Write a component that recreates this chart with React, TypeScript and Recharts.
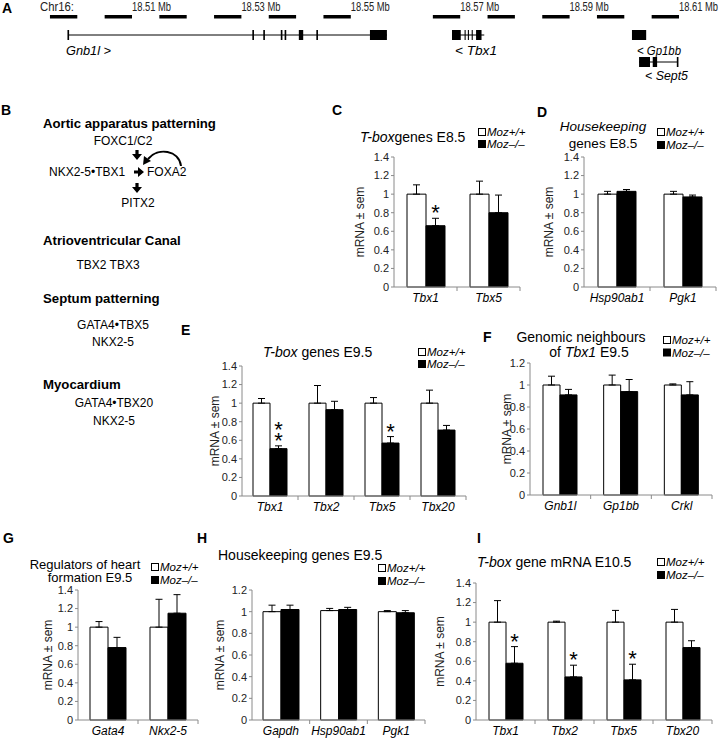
import React from "react";
import {
  BarChart,
  Bar,
  XAxis,
  YAxis,
  ErrorBar,
  LabelList,
  ComposedChart,
  ReferenceArea,
  ReferenceLine,
} from "recharts";

const FONT = "'Liberation Sans', Arial, Helvetica, sans-serif";
const AXIS = "#8a8a8a";
const TXT = "#222";

const seriesNames = ["Moz+/+", "Moz\u2013/\u2013"];

// ---- panel A: genomic map (Mb)
const mbTicks = [18.51, 18.53, 18.55, 18.57, 18.59, 18.61];
const scaleStarts = [18.495, 18.505, 18.515, 18.525, 18.535, 18.545, 18.565, 18.575, 18.585, 18.595, 18.605];
const scaleLen = 0.005;
const gnb1lSpan = [18.4983, 18.5566];
const gnb1lExons = [
  [18.4982, 18.4985], [18.532, 18.5323], [18.534, 18.5343], [18.5372, 18.5375],
  [18.5379, 18.5382], [18.5405, 18.5413], [18.5437, 18.544], [18.5535, 18.5566],
];
const tbx1Span = [18.5685, 18.5744];
const tbx1Exons = [
  [18.5685, 18.5701], [18.5708, 18.571], [18.5714, 18.5716], [18.5721, 18.5723], [18.5729, 18.5739],
];
const gp1bbExons = [[18.6014, 18.604]];
const sept5Span = [18.6027, 18.6098];
const sept5Exons = [[18.6027, 18.6047], [18.6052, 18.606], [18.6096, 18.6099]];

// ---- panel C
const cGenes = ["Tbx1", "Tbx5"];
const cWt = [1, 1];
const cWtSem = [0.1, 0.14];
const cKo = [0.66, 0.8];
const cKoSem = [0.08, 0.19];
const cStars = ["*", ""];

// ---- panel D
const dGenes = ["Hsp90ab1", "Pgk1"];
const dWt = [1, 1];
const dWtSem = [0.03, 0.03];
const dKo = [1.03, 0.97];
const dKoSem = [0.02, 0.02];
const dStars = ["", ""];

// ---- panel E
const eGenes = ["Tbx1", "Tbx2", "Tbx5", "Tbx20"];
const eWt = [1, 1, 1, 1];
const eWtSem = [0.05, 0.19, 0.06, 0.14];
const eKo = [0.51, 0.93, 0.57, 0.71];
const eKoSem = [0.03, 0.09, 0.07, 0.05];
const eStars = ["**", "", "*", ""];

// ---- panel F
const fGenes = ["Gnb1l", "Gp1bb", "Crkl"];
const fWt = [1, 1, 1];
const fWtSem = [0.08, 0.09, 0.01];
const fKo = [0.91, 0.94, 0.91];
const fKoSem = [0.05, 0.11, 0.12];
const fStars = ["", "", ""];

// ---- panel G
const gGenes = ["Gata4", "Nkx2-5"];
const gWt = [1, 1];
const gWtSem = [0.06, 0.3];
const gKo = [0.78, 1.15];
const gKoSem = [0.11, 0.2];
const gStars = ["", ""];

// ---- panel H
const hGenes = ["Gapdh", "Hsp90ab1", "Pgk1"];
const hWt = [1, 1.01, 1];
const hWtSem = [0.06, 0.02, 0.01];
const hKo = [1.02, 1.02, 0.99];
const hKoSem = [0.04, 0.02, 0.02];
const hStars = ["", "", ""];

// ---- panel I
const iGenes = ["Tbx1", "Tbx2", "Tbx5", "Tbx20"];
const iWt = [1, 1, 1, 1];
const iWtSem = [0.22, 0.01, 0.12, 0.13];
const iKo = [0.58, 0.44, 0.41, 0.74];
const iKoSem = [0.17, 0.12, 0.16, 0.07];
const iStars = ["*", "*", "*", ""];

const ticks14 = [0, 0.2, 0.4, 0.6, 0.8, 1, 1.2, 1.4];
const ticks12 = [0, 0.2, 0.4, 0.6, 0.8, 1, 1.2];

type Box = { left: number; top: number; width: number; height: number };

type ExprProps = {
  genes: string[];
  wt: number[];
  wtSem: number[];
  ko: number[];
  koSem: number[];
  stars: string[];
  ticks: number[];
  box: Box;
  labelGap: number;
  barSize: number;
};

function ExprChart({ genes, wt, wtSem, ko, koSem, stars, ticks, box, labelGap, barSize }: ExprProps) {
  const rows = genes.map((g, i) => ({
    gene: g,
    wt: wt[i],
    wtErr: [0, wtSem[i]],
    ko: ko[i],
    koErr: [0, koSem[i]],
    star: stars[i],
  }));
  const yw = labelGap * 2;
  const mTop = 12;
  const xh = 24;
  const mRight = 4;
  const band = box.width / genes.length;

  const geneTick = (p: any) => (
    <g>
      <line x1={p.x + band / 2} x2={p.x + band / 2} y1={p.y - 7} y2={p.y - 3} stroke={AXIS} />
      <text x={p.x} y={p.y} dy={8} textAnchor="middle" fontStyle="italic" fontSize={12} fontFamily={FONT} fill="#000">
        {p.payload.value}
      </text>
    </g>
  );

  // stars sit just above the knockout error cap
  const starLabel = (p: any) => {
    const { x, y, width, height, value, index } = p;
    if (!value) return null;
    const unit = height / ko[index];
    const capY = y - koSem[index] * unit;
    const cx = x + width / 2;
    return (
      <g>
        {String(value)
          .split("")
          .map((s, k) => (
            <text key={k} x={cx} y={capY + 2 - k * 10.5} textAnchor="middle" fontSize={22} fontFamily={FONT} fill="#000">
              {s}
            </text>
          ))}
      </g>
    );
  };

  return (
    <div style={{ position: "absolute", left: box.left - yw, top: box.top - mTop }}>
      <BarChart
        width={yw + box.width + mRight}
        height={mTop + box.height + xh}
        data={rows}
        margin={{ top: mTop, right: mRight, bottom: 0, left: 0 }}
        barGap={0}
        barSize={barSize}
      >
        <XAxis dataKey="gene" height={xh} stroke={AXIS} tickLine={false} tickSize={4} tickMargin={3} interval={0} tick={geneTick} />
        <YAxis
          width={yw}
          domain={[0, ticks[ticks.length - 1]]}
          ticks={ticks}
          interval={0}
          stroke={AXIS}
          tickSize={3}
          tickMargin={2}
          tick={{ fill: TXT, fontSize: 11, fontFamily: FONT }}
          label={{ value: "mRNA \u00b1 sem", angle: -90, position: "center", fill: TXT, fontSize: 12, fontFamily: FONT }}
        />
        <Bar dataKey="wt" name={seriesNames[0]} fill="#fff" stroke="#000" strokeWidth={1} isAnimationActive={false}>
          <ErrorBar dataKey="wtErr" width={3.5} stroke="#000" strokeWidth={1} />
        </Bar>
        <Bar dataKey="ko" name={seriesNames[1]} fill="#000" stroke="#000" strokeWidth={1} isAnimationActive={false}>
          <ErrorBar dataKey="koErr" width={3.5} stroke="#000" strokeWidth={1} />
          <LabelList dataKey="star" content={starLabel} />
        </Bar>
      </BarChart>
    </div>
  );
}

function GeneMap() {
  const W = 726;
  const H = 90;
  const pxPerMb = 5470;
  const x0 = 18.51 - 132 / pxPerMb;
  const x1 = x0 + W / pxPerMb;
  const rowY = 35;
  const sept5Y = 62;
  const hh = 5;
  const exonAreas = (exons: number[][], y: number, key: string) =>
    exons.map((e, i) => (
      <ReferenceArea key={key + i} x1={e[0]} x2={e[1]} y1={y - hh} y2={y + hh} fill="#000" fillOpacity={1} stroke="none" ifOverflow="visible" />
    ));
  // condensed look of the original scale labels
  const mbTick = (p: any) => (
    <text x={p.x} y={p.y} textAnchor="start" fontSize={12} fontFamily={FONT} fill={TXT} textLength={39} lengthAdjust="spacingAndGlyphs">
      {p.payload.value.toFixed(2)} Mb
    </text>
  );
  return (
    <div style={{ position: "absolute", left: 0, top: 0 }}>
      <ComposedChart width={W} height={H} data={scaleStarts.map((s) => ({ s }))} margin={{ top: 0, right: 0, bottom: 0, left: 0 }}>
        <XAxis
          type="number"
          dataKey="s"
          orientation="top"
          domain={[x0, x1]}
          allowDataOverflow
          ticks={mbTicks}
          interval={0}
          height={14}
          axisLine={false}
          tickLine={false}
          tickSize={0}
          tickMargin={3}
          tick={mbTick}
        />
        <YAxis type="number" hide reversed domain={[14, H]} allowDataOverflow />
        {scaleStarts.map((s, i) => (
          <ReferenceArea key={"sc" + i} x1={s} x2={s + scaleLen} y1={15} y2={18.5} fill="#000" fillOpacity={1} stroke="none" ifOverflow="visible" />
        ))}
        <ReferenceLine segment={[{ x: gnb1lSpan[0], y: rowY }, { x: gnb1lSpan[1], y: rowY }]} stroke="#000" strokeWidth={1} ifOverflow="visible" />
        <ReferenceLine segment={[{ x: tbx1Span[0], y: rowY }, { x: tbx1Span[1], y: rowY }]} stroke="#000" strokeWidth={1} ifOverflow="visible" />
        <ReferenceLine segment={[{ x: sept5Span[0], y: sept5Y }, { x: sept5Span[1], y: sept5Y }]} stroke="#000" strokeWidth={1} ifOverflow="visible" />
        {exonAreas(gnb1lExons, rowY, "g")}
        {exonAreas(tbx1Exons, rowY, "t")}
        {exonAreas(gp1bbExons, rowY, "p")}
        {exonAreas(sept5Exons, sept5Y, "s")}
      </ComposedChart>
    </div>
  );
}

const legendAt = (x: number, y: number, step = 12.5) => (
  <g>
    {seriesNames.map((n, i) => (
      <g key={n}>
        <rect x={x + 0.5} y={y + i * step - 3.5} width={7} height={7} fill={i ? "#000" : "#fff"} stroke="#000" strokeWidth={1} />
        <text x={x + 9} y={y + i * step} dominantBaseline="central" fontSize={11.5} fontStyle="italic" fontFamily={FONT} fill="#000">
          {n}
        </text>
      </g>
    ))}
  </g>
);

const downArrow = (cx: number, ty: number) => (
  <path d={`M${cx - 1.6} ${ty} H${cx + 1.6} V${ty + 4} H${cx + 5} L${cx} ${ty + 10} L${cx - 5} ${ty + 4} H${cx - 1.6} Z`} fill="#000" />
);

const rightArrow = (lx: number, cy: number) => (
  <path d={`M${lx} ${cy - 1.6} H${lx + 4} V${cy - 5} L${lx + 10} ${cy} L${lx + 4} ${cy + 5} V${cy + 1.6} H${lx} Z`} fill="#000" />
);

function Overlay() {
  const t = { fontFamily: FONT, fill: "#000", dominantBaseline: "central" as const };
  const letter = (s: string, x: number, y: number) => (
    <text x={x} y={y} fontSize={14} fontWeight="bold" {...t}>
      {s}
    </text>
  );
  const squeeze = { lengthAdjust: "spacingAndGlyphs" as const };
  return (
    <svg width={726} height={738} style={{ position: "absolute", left: 0, top: 0, pointerEvents: "none" }}>
      {/* panel letters */}
      {letter("A", 2, 8)}
      {letter("B", 1, 110)}
      {letter("C", 332, 110)}
      {letter("D", 537, 112)}
      {letter("E", 181, 330)}
      {letter("F", 483, 337)}
      {letter("G", 3, 538)}
      {letter("H", 197, 538)}
      {letter("I", 477, 538)}

      {/* A */}
      <text x={40} y={7} fontSize={12} {...t} fill={TXT} textLength={34} {...squeeze}>Chr16:</text>
      <g fontSize={13} fontStyle="italic">
        <text x={66} y={50} {...t} textLength={45} {...squeeze}>Gnb1l &gt;</text>
        <text x={455} y={50} {...t} textLength={42} {...squeeze}>&lt; Tbx1</text>
        <text x={637} y={50} {...t} textLength={44} {...squeeze}>&lt; Gp1bb</text>
        <text x={645} y={75} {...t} textLength={43} {...squeeze}>&lt; Sept5</text>
      </g>

      {/* B */}
      <g fontSize={13.2} fontWeight="bold">
        <text x={43} y={123} {...t}>Aortic apparatus patterning</text>
        <text x={43} y={240} {...t}>Atrioventricular Canal</text>
        <text x={43} y={298} {...t}>Septum patterning</text>
        <text x={43} y={384} {...t}>Myocardium</text>
      </g>
      <g fontSize={12}>
        <text x={123} y={141} textAnchor="middle" {...t}>FOXC1/C2</text>
        <text x={49} y={172} {...t}>NKX2-5•TBX1</text>
        <text x={147} y={172} {...t}>FOXA2</text>
        <text x={138} y={203} textAnchor="middle" {...t}>PITX2</text>
        <text x={108} y={265} textAnchor="middle" {...t}>TBX2 TBX3</text>
        <text x={113} y={325} textAnchor="middle" {...t}>GATA4•TBX5</text>
        <text x={113} y={342} textAnchor="middle" {...t}>NKX2-5</text>
        <text x={114} y={403} textAnchor="middle" {...t}>GATA4•TBX20</text>
        <text x={114} y={421} textAnchor="middle" {...t}>NKX2-5</text>
      </g>
      {downArrow(137, 150)}
      {rightArrow(134, 172)}
      {downArrow(137, 183)}
      <path d="M181 166 C179 150 158 147 148 159" fill="none" stroke="#000" strokeWidth={2} />
      <path d="M143 165 L144 156 L151 161 Z" fill="#000" />

      {/* titles */}
      <g fontSize={14}>
        <text x={360} y={137} {...t}>
          <tspan fontStyle="italic">T-box</tspan>genes E8.5
        </text>
        <text x={263} y={352} {...t}>
          <tspan fontStyle="italic">T-box</tspan> genes E9.5
        </text>
        <text x={581} y={337} textAnchor="middle" {...t}>Genomic neighbours</text>
        <text x={589} y={352} textAnchor="middle" {...t}>
          of <tspan fontStyle="italic">Tbx1</tspan> E9.5
        </text>
        <text x={218} y={555} {...t}>Housekeeping genes E9.5</text>
        <text x={477} y={562} {...t}>
          <tspan fontStyle="italic">T-box</tspan> gene mRNA E10.5
        </text>
      </g>
      <g fontSize={13.5}>
        <text x={603} y={126} textAnchor="middle" fontStyle="italic" {...t}>Housekeeping</text>
        <text x={603} y={143} textAnchor="middle" {...t}>genes E8.5</text>
      </g>
      <g fontSize={13}>
        <text x={85} y={564} textAnchor="middle" {...t}>Regulators of heart</text>
        <text x={90} y={577} textAnchor="middle" {...t}>formation E9.5</text>
      </g>

      {/* legends */}
      {legendAt(478, 132, 12)}
      {legendAt(657, 132, 13)}
      {legendAt(418, 352, 12)}
      {legendAt(663, 340, 12.5)}
      {legendAt(151, 567, 13)}
      {legendAt(378, 568, 13)}
      {legendAt(657, 562, 13)}
    </svg>
  );
}

export default function App() {
  return (
    <div style={{ position: "absolute", left: 0, top: 0, width: 726, height: 738, background: "#fff", fontFamily: FONT }}>
      <GeneMap />
      <ExprChart genes={cGenes} wt={cWt} wtSem={cWtSem} ko={cKo} koSem={cKoSem} stars={cStars} ticks={ticks14}
        box={{ left: 394, top: 157, width: 126, height: 130 }} labelGap={34} barSize={19} />
      <ExprChart genes={dGenes} wt={dWt} wtSem={dWtSem} ko={dKo} koSem={dKoSem} stars={dStars} ticks={ticks14}
        box={{ left: 584, top: 157, width: 132, height: 130 }} labelGap={35} barSize={19} />
      <ExprChart genes={eGenes} wt={eWt} wtSem={eWtSem} ko={eKo} koSem={eKoSem} stars={eStars} ticks={ticks14}
        box={{ left: 242, top: 366, width: 224, height: 130 }} labelGap={27} barSize={17} />
      <ExprChart genes={fGenes} wt={fWt} wtSem={fWtSem} ko={fKo} koSem={fKoSem} stars={fStars} ticks={ticks12}
        box={{ left: 530, top: 363, width: 182, height: 132 }} labelGap={23} barSize={17} />
      <ExprChart genes={gGenes} wt={gWt} wtSem={gWtSem} ko={gKo} koSem={gKoSem} stars={gStars} ticks={ticks14}
        box={{ left: 78, top: 590, width: 120, height: 130 }} labelGap={30} barSize={18} />
      <ExprChart genes={hGenes} wt={hWt} wtSem={hWtSem} ko={hKo} koSem={hKoSem} stars={hStars} ticks={ticks12}
        box={{ left: 252, top: 590, width: 173, height: 130 }} labelGap={32} barSize={18} />
      <ExprChart genes={iGenes} wt={iWt} wtSem={iWtSem} ko={iKo} koSem={iKoSem} stars={iStars} ticks={ticks14}
        box={{ left: 476, top: 583, width: 236, height: 137 }} labelGap={36} barSize={17} />
      <Overlay />
    </div>
  );
}
